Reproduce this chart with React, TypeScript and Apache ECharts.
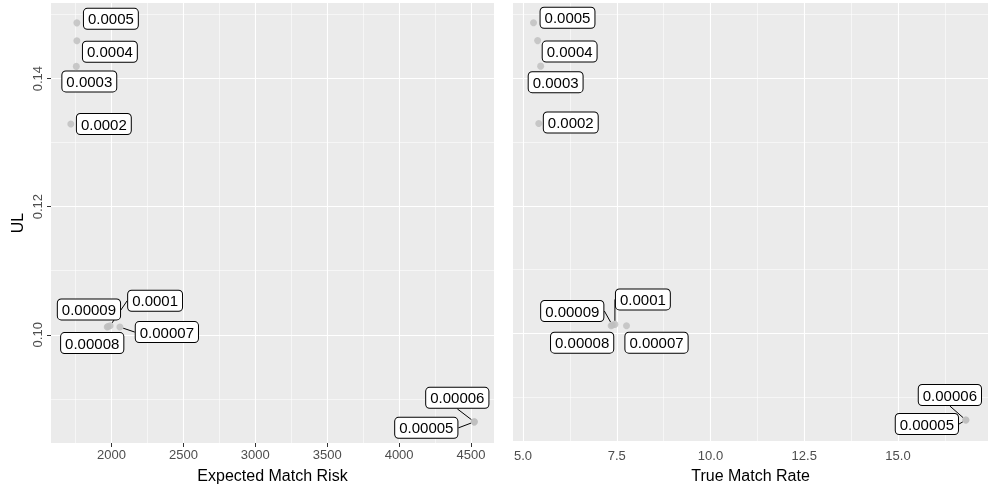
import React, { useEffect, useRef } from "react";
import * as echarts from "echarts";

// ---- data ----
const pointLabels = ["0.0005", "0.0004", "0.0003", "0.0002", "0.0001", "0.00009", "0.00008", "0.00007", "0.00006", "0.00005"];
const ulValues = [0.1487, 0.1459, 0.1419, 0.1329, 0.1014, 0.1013, 0.1012, 0.1012, 0.0864, 0.0864];
const expectedMatchRisk = [1759, 1759, 1755, 1717, 1990, 1975, 1970, 2058, 4523, 4523];
const trueMatchRate = [5.28, 5.39, 5.47, 5.42, 7.45, 7.38, 7.35, 7.76, 16.81, 16.81];

const riskTicks = [2000, 2500, 3000, 3500, 4000, 4500];
const riskMinor = [1750, 2250, 2750, 3250, 3750, 4250];
const rateTicks = [5, 7.5, 10, 12.5, 15];
const rateMinor = [6.25, 8.75, 11.25, 13.75, 16.25];
const ulTicks = [0.1, 0.12, 0.14];
const ulMinor = [0.09, 0.11, 0.13, 0.15];

// ---- label layout (pixel offsets of each label box from its point) ----
const leftOffsets = [[34, -4], [33, 11], [13, 15], [33, 0], [45, -25], [-19, -17], [-15, 16], [47, 5], [-17, -24], [-48, 6]];
const rightOffsets = [[34, -5], [32, 11], [15, 16], [32, -1], [28, -25], [-40, -14], [-29, 17], [30, 17], [-16, -25], [-39, 4]];
const leftLines = [false, false, false, false, true, false, false, true, true, true];
const rightLines = [false, false, false, false, true, true, false, false, true, true];

const FONT = "'Liberation Sans', Arial, Helvetica, sans-serif";

export default function App() {
  const ref = useRef<HTMLDivElement>(null);
  useEffect(() => {
    if (!ref.current) return;
    const chart = echarts.init(ref.current, undefined, { renderer: "svg" });

    const gridBase = { show: true, backgroundColor: "#EBEBEB", borderWidth: 0, containLabel: false };
    const majorLine = { show: true, lineStyle: { color: "#FFFFFF", width: 1.1 } };
    const minorLine = { show: true, lineStyle: { color: "#FFFFFF", width: 0.55 } };
    const tickStyle = { color: "#333333", width: 1 };
    const labelText = { color: "#4D4D4D", fontSize: 13, fontFamily: FONT };

    const mkData = (xs: number[], lines: boolean[]) =>
      xs.map((x, i) => ({ value: [x, ulValues[i]], name: pointLabels[i], labelLine: { show: lines[i] } }));

    const seriesLabel = {
      show: true,
      position: "inside",
      formatter: (p: any) => p.name,
      color: "#000000",
      textBorderWidth: 0,
      opacity: 1,
      fontSize: 15,
      fontFamily: FONT,
      lineHeight: 17,
      backgroundColor: "#FFFFFF",
      borderColor: "#000000",
      borderWidth: 1,
      borderRadius: 3.5,
      padding: [2, 4, 1, 4],
    };

    const option: any = {
      animation: false,
      grid: [
        { ...gridBase, left: 51, top: 3, width: 443, height: 443 },
        { ...gridBase, left: 513, top: 3, width: 475, height: 443 },
      ],
      xAxis: [
        {
          gridIndex: 0, type: "value", min: 1579, max: 4660,
          axisLine: { show: false },
          axisTick: { show: true, length: 4, lineStyle: tickStyle, customValues: riskTicks },
          axisLabel: { ...labelText, margin: 5, customValues: riskTicks, formatter: (v: number) => String(v) },
          splitLine: majorLine,
          name: "Expected Match Risk", nameLocation: "middle", nameGap: 24,
          nameTextStyle: { fontSize: 16, color: "#000", fontFamily: FONT },
        },
        {
          gridIndex: 0, type: "value", min: 1579, max: 4660,
          axisLine: { show: false },
          axisTick: { show: false, customValues: riskMinor },
          axisLabel: { show: false },
          splitLine: minorLine,
        },
        {
          gridIndex: 1, type: "value", min: 4.733, max: 17.4,
          axisLine: { show: false },
          axisTick: { show: false, customValues: rateTicks },
          axisLabel: { ...labelText, margin: 8, customValues: rateTicks, formatter: (v: number) => v.toFixed(1) },
          splitLine: majorLine,
          name: "True Match Rate", nameLocation: "middle", nameGap: 24,
          nameTextStyle: { fontSize: 16, color: "#000", fontFamily: FONT },
        },
        {
          gridIndex: 1, type: "value", min: 4.733, max: 17.4,
          axisLine: { show: false },
          axisTick: { show: false, customValues: rateMinor },
          axisLabel: { show: false },
          splitLine: minorLine,
        },
      ],
      yAxis: [
        {
          gridIndex: 0, type: "value", min: 0.0831, max: 0.1518,
          axisLine: { show: false },
          axisTick: { show: true, length: 4, lineStyle: tickStyle, customValues: ulTicks },
          axisLabel: { ...labelText, rotate: 90, margin: 7, customValues: ulTicks, formatter: (v: number) => v.toFixed(2) },
          splitLine: majorLine,
          name: "UL", nameLocation: "middle", nameGap: 26,
          nameTextStyle: { fontSize: 16, color: "#000", fontFamily: FONT },
        },
        {
          gridIndex: 0, type: "value", min: 0.0831, max: 0.1518,
          axisLine: { show: false },
          axisTick: { show: false, customValues: ulMinor },
          axisLabel: { show: false },
          splitLine: minorLine,
        },
        {
          gridIndex: 1, type: "value", min: 0.0831, max: 0.1518,
          axisLine: { show: false },
          axisTick: { show: false, customValues: ulTicks },
          axisLabel: { show: false },
          splitLine: majorLine,
        },
        {
          gridIndex: 1, type: "value", min: 0.0831, max: 0.1518,
          axisLine: { show: false },
          axisTick: { show: false, customValues: ulMinor },
          axisLabel: { show: false },
          splitLine: minorLine,
        },
      ],
      series: [
        {
          type: "scatter", xAxisIndex: 0, yAxisIndex: 0,
          symbolSize: 7,
          itemStyle: { color: "#BEBEBE" },
          data: mkData(expectedMatchRisk, leftLines),
          label: seriesLabel,
          labelLine: { show: true, lineStyle: { color: "#000", width: 1 } },
          labelLayout: (p: any) => ({ dx: leftOffsets[p.dataIndex][0], dy: leftOffsets[p.dataIndex][1] }),
          emphasis: { disabled: true },
        },
        {
          type: "scatter", xAxisIndex: 2, yAxisIndex: 2,
          symbolSize: 7,
          itemStyle: { color: "#BEBEBE" },
          data: mkData(trueMatchRate, rightLines),
          label: seriesLabel,
          labelLine: { show: true, lineStyle: { color: "#000", width: 1 } },
          labelLayout: (p: any) => ({ dx: rightOffsets[p.dataIndex][0], dy: rightOffsets[p.dataIndex][1] }),
          emphasis: { disabled: true },
        },
      ],
    };

    chart.setOption(option);
    return () => chart.dispose();
  }, []);

  return <div ref={ref} style={{ width: 988, height: 488, position: "fixed", left: 0, top: 0 }} />;
}
